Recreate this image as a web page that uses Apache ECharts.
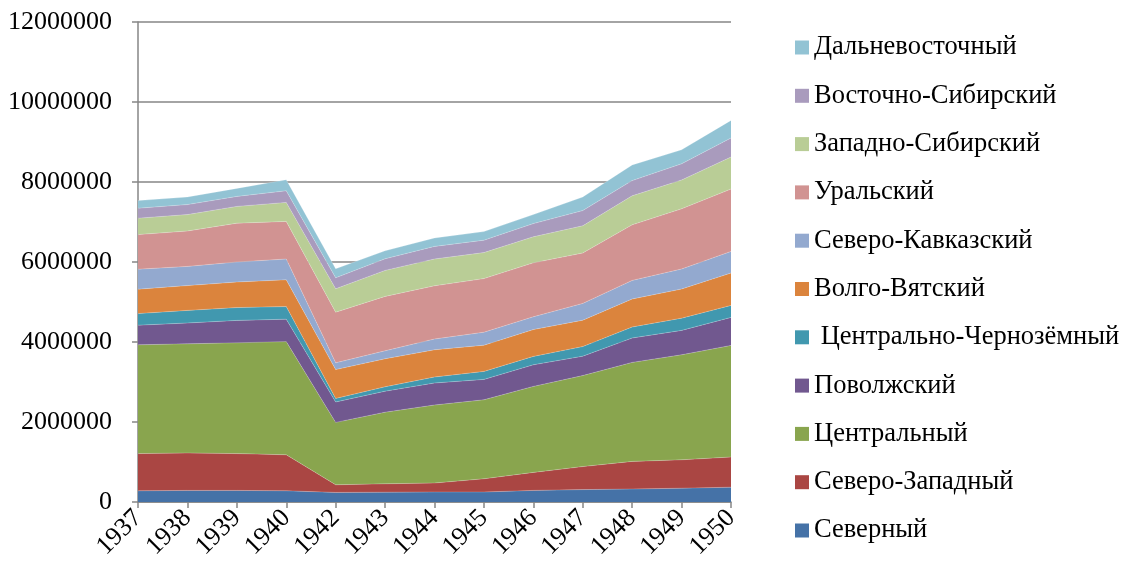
<!DOCTYPE html>
<html>
<head>
<meta charset="utf-8">
<script src="https://cdn.jsdelivr.net/npm/echarts@6/dist/echarts.min.js"></script>
<style>html,body{margin:0;padding:0;background:#fff}#c{width:1124px;height:570px}</style>
</head>
<body>
<div id="c"></div>
<script>
const years = ['1937','1938','1939','1940','1942','1943','1944','1945','1946','1947','1948','1949','1950'];
const yTicks = [0, 2000000, 4000000, 6000000, 8000000, 10000000, 12000000];

const severny        = [280000, 290000, 290000, 280000, 240000, 245000, 250000, 250000, 290000, 310000, 325000, 345000, 370000];
const severoZapadny  = [930000, 935000, 920000, 900000, 190000, 210000, 225000, 330000, 450000, 575000, 690000, 710000, 755000];
const centralny      = [2720000, 2730000, 2770000, 2830000, 1560000, 1790000, 1950000, 1975000, 2150000, 2275000, 2475000, 2625000, 2790000];
const povolzhsky     = [490000, 520000, 560000, 560000, 510000, 525000, 550000, 510000, 540000, 485000, 610000, 610000, 700000];
const centrChernozem = [290000, 315000, 320000, 315000, 90000, 110000, 150000, 200000, 210000, 240000, 275000, 305000, 300000];
const volgoVyatsky   = [610000, 620000, 640000, 670000, 720000, 700000, 680000, 655000, 670000, 660000, 700000, 730000, 810000];
const severoKavkaz   = [500000, 480000, 500000, 520000, 170000, 200000, 270000, 325000, 320000, 420000, 465000, 500000, 540000];
const uralsky        = [865000, 885000, 970000, 940000, 1265000, 1360000, 1330000, 1340000, 1350000, 1260000, 1390000, 1505000, 1560000];
const zapadnoSib     = [410000, 410000, 420000, 475000, 585000, 650000, 670000, 650000, 650000, 680000, 725000, 720000, 800000];
const vostochnoSib   = [250000, 250000, 250000, 290000, 275000, 290000, 315000, 310000, 330000, 380000, 380000, 405000, 475000];
const dalnevostochny = [190000, 190000, 200000, 275000, 225000, 200000, 210000, 215000, 225000, 340000, 390000, 350000, 440000];

const seriesNames = ['Северный','Северо-Западный','Центральный','Поволжский',' Центрально-Чернозёмный','Волго-Вятский','Северо-Кавказский','Уральский','Западно-Сибирский','Восточно-Сибирский','Дальневосточный'];
const seriesData = [severny, severoZapadny, centralny, povolzhsky, centrChernozem, volgoVyatsky, severoKavkaz, uralsky, zapadnoSib, vostochnoSib, dalnevostochny];
const colors = ['#4572A7','#AA4643','#89A54E','#71588F','#4198AF','#DB843D','#93A9CF','#D19392','#B9CD96','#A99BBD','#92C3D4'];

const FONT = '"Liberation Serif","Times New Roman",serif';
const chart = echarts.init(document.getElementById('c'), null, {renderer:'canvas'});
chart.setOption({
  animation: false,
  color: colors,
  grid: {left: 138, right: 393, top: 22, bottom: 68, containLabel: false},
  legend: {
    orient: 'vertical',
    left: 790,
    top: 29,
    itemWidth: 14,
    itemHeight: 14,
    itemGap: 21.3,
    icon: 'rect',
    data: seriesNames.slice().reverse(),
    textStyle: {fontFamily: FONT, fontSize: 26.5, color: '#000', lineHeight: 26, padding: [0,0,0,0]}
  },
  xAxis: {
    type: 'category',
    data: years,
    boundaryGap: false,
    axisLine: {lineStyle: {color: '#868686', width: 1.5}},
    axisTick: {show: true, length: 6, lineStyle: {color: '#868686', width: 1.5}},
    axisLabel: {rotate: 45, margin: 12, fontFamily: FONT, fontSize: 26, color: '#000'},
    splitLine: {show: false}
  },
  yAxis: {
    type: 'value',
    min: yTicks[0],
    max: yTicks[yTicks.length-1],
    interval: 2000000,
    axisLine: {show: true, lineStyle: {color: '#868686', width: 1.5}},
    axisTick: {show: true, length: 6, lineStyle: {color: '#868686', width: 1.5}},
    axisLabel: {margin: 26, fontFamily: FONT, fontSize: 26, color: '#000', formatter: v => String(v)},
    splitLine: {show: true, lineStyle: {color: '#868686', width: 1.5}}
  },
  series: seriesNames.map((n, i) => ({
    name: n,
    type: 'line',
    stack: 'total',
    data: seriesData[i],
    showSymbol: false,
    symbol: 'none',
    lineStyle: {width: 0.6, color: 'rgba(255,255,255,0.35)'},
    areaStyle: {color: colors[i], opacity: 1},
    itemStyle: {color: colors[i]}
  }))
});
</script>
</body>
</html>
